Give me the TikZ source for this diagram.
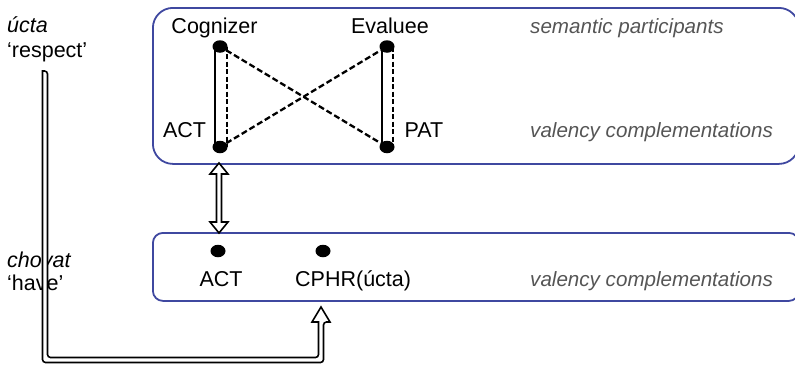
\documentclass[tikz,border=0pt]{standalone}
\usepackage{fontspec}
\setmainfont{Liberation Sans}
\usetikzlibrary{shapes.geometric}
\definecolor{boxblue}{RGB}{63,72,160}
\definecolor{notegray}{RGB}{85,85,85}
\begin{document}
\begin{tikzpicture}[x=1pt,y=-1pt,
  lbl/.style={font=\fontsize{21.5}{25}\selectfont, inner sep=0pt, anchor=base},
  note/.style={font=\fontsize{20.6}{25}\selectfont\itshape, text=notegray, inner sep=0pt, anchor=base west},
  dot/.style={ellipse, fill=black, minimum width=15pt, minimum height=12.5pt, inner sep=0pt},
  box/.style={draw=boxblue, line width=1.8pt, anchor=north west, inner sep=0pt},
  blockarrow/.style={draw=black, line width=1.6pt, fill=white, line join=miter},
  pairsolid/.style={line width=2.8pt},
  pairdash/.style={line width=1.8pt, dash pattern=on 5pt off 2.5pt},
  crossdash/.style={line width=2.3pt, dash pattern=on 6pt off 3pt}
]
\useasboundingbox (0,0) rectangle (795,367);
\clip (0,0) rectangle (795,367);

% boxes
\node[box, rounded corners=20pt, minimum width=646pt, minimum height=156pt] (topbox) at (152,7) {};
\node[box, rounded corners=10pt, minimum width=646pt, minimum height=68pt] (botbox) at (152,232) {};

% dots
\node[dot] (cog) at (220,46.5) {};
\node[dot] (eva) at (387,46.5) {};
\node[dot] (act) at (220,147) {};
\node[dot] (pat) at (387,147) {};
\node[dot] (bact) at (218,251) {};
\node[dot] (cphr) at (323,251) {};

% pair lines
\draw[pairsolid] ([xshift=-5pt]cog.center) -- ([xshift=-5pt]act.center);
\draw[pairdash] ([xshift=7pt]cog.center) -- ([xshift=7pt]act.center);
\draw[pairsolid] ([xshift=-5pt]eva.center) -- ([xshift=-5pt]pat.center);
\draw[pairdash] ([xshift=6pt]eva.center) -- ([xshift=6pt]pat.center);
% crossing lines
\draw[crossdash] (cog) -- (pat);
\draw[crossdash] (act) -- (eva);

% texts
\node[lbl] (tcog) at (214.5,33) {Cognizer};
\node[lbl] (teva) at (390,33) {Evaluee};
\node[lbl] (tact) at (184.5,137.5) {ACT};
\node[lbl] (tpat) at (424,137.5) {PAT};
\node[note] (tsem) at (530,33) {semantic participants};
\node[note] (tval1) at (530,137.5) {valency complementations};
\node[note] (tval2) at (530,286) {valency complementations};
\node[lbl, anchor=base west] (ucta) at (7,32) {\itshape úcta};
\node[lbl, anchor=base west] (resp) at (7,57.5) {‘respect’};
\node[lbl, anchor=base west] (chov) at (7,267) {\itshape chovat};
\node[lbl, anchor=base west] (have) at (7,290) {‘have’};
\node[lbl] (tbact) at (221,286) {ACT};
\node[lbl, anchor=base west] (tcphr) at (295,286) {CPHR(úcta)};

% double-headed block arrow between boxes
\coordinate (atop) at (219,163);
\coordinate (abot) at (219,233);
\draw[blockarrow] (atop) -- ++(9,11) -- ++(-6.5,0) -- ++(0,48) -- ++(6.5,0) -- (abot)
  -- ++(-9,-11) -- ++(6.5,0) -- ++(0,-48) -- ++(-6.5,0) -- cycle;

% bent block arrow from 'respect' to CPHR
\coordinate (bstart) at (45,71);
\coordinate (btip) at (321,307);
\draw[blockarrow] (42.5,71) [rounded corners=3pt] -- (42.5,362.5) -- (323.5,362.5) -- (323.5,322) [sharp corners]
  -- (330,322) -- (btip) -- (312,322) -- (318.5,322) [rounded corners=3pt] -- (318.5,357.5) -- (47.5,357.5) -- (47.5,71) [sharp corners] -- cycle;
\end{tikzpicture}
\end{document}
